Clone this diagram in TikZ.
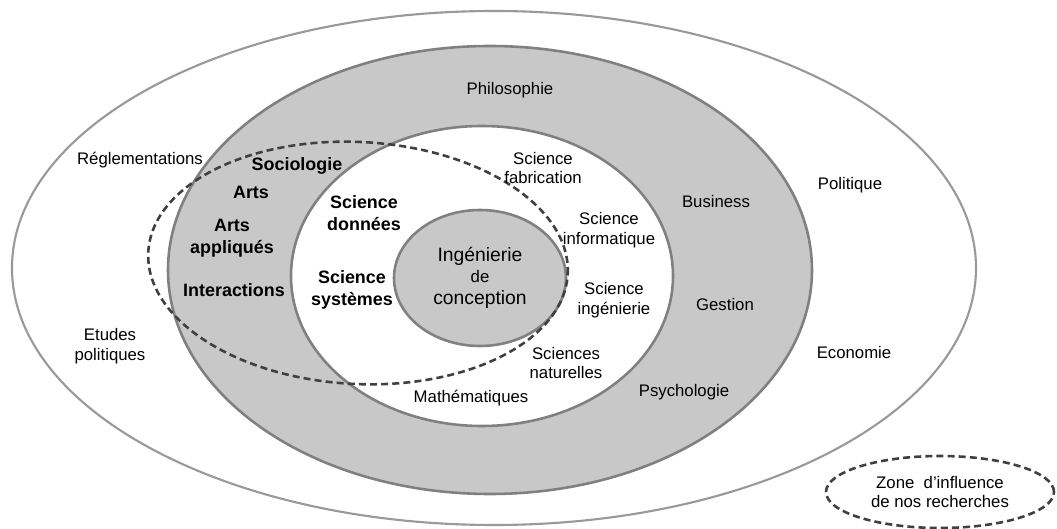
\documentclass[tikz,border=0pt]{standalone}
\usepackage{fontspec}
\setmainfont{Liberation Sans}
\definecolor{ringgray}{RGB}{200,200,200}
\definecolor{edgegray}{RGB}{128,128,128}
\definecolor{dashgray}{RGB}{64,64,64}
\begin{document}
\begin{tikzpicture}[
  x=0.03cm, y=0.03cm,
  ring/.style={draw=edgegray, line width=2.2pt},
  zone/.style={draw=dashgray, line width=2.2pt, dash pattern=on 6pt off 3.5pt},
  lbl/.style={font=\fontsize{14.3}{17}\selectfont, align=center, inner sep=0pt},
  blbl/.style={lbl, font=\fontsize{15.3}{18.5}\selectfont\bfseries}
]
\useasboundingbox [fill=white] (0,0) rectangle (1057,529);

% nested domains
\draw [draw=edgegray!80, line width=1.8pt] (494,261) ellipse [x radius=482, y radius=257];
\draw [ring, fill=ringgray] (490,259) ellipse [x radius=322, y radius=224];
\draw [ring, fill=white] (482,253) ellipse [x radius=191, y radius=150];
\draw [ring, fill=ringgray] (480,251) ellipse [x radius=86, y radius=68];

% zones of influence
\draw [zone] (358,266) ellipse [x radius=210, y radius=121, rotate=-3];
\draw [zone] (940,37) ellipse [x radius=114, y radius=36];

% outer ring
\node [lbl] (regl) at (140,369) {Réglementations};
\node [lbl] (etudes) at (110,183) {Etudes\\politiques};
\node [lbl] (polit) at (850,344) {Politique};
\node [lbl] (econ) at (854,176) {Economie};

% gray ring
\node [lbl] (philo) at (510,439) {Philosophie};
\node [blbl] (socio) at (297,363) {Sociologie};
\node [blbl] (arts) at (251,337) {Arts};
\node [blbl] (artsap) at (232,291) {Arts\\appliqués};
\node [blbl] (inter) at (234,239) {Interactions};
\node [lbl] (busi) at (716,327) {Business};
\node [lbl] (gest) at (725,224) {Gestion};
\node [lbl] (psy) at (684,137) {Psychologie};

% white ring
\node [blbl] (donnees) at (364,316) {Science\\données};
\node [blbl] (systemes) at (352,239) {Science\\systèmes};
\node [lbl] (fabr) at (543,361) {Science\\fabrication};
\node [lbl] (info) at (609,299) {Science\\informatique};
\node [lbl] (ingen) at (614,229) {Science\\ingénierie};
\node [lbl] (natur) at (566,166) {Sciences\\naturelles};
\node [lbl] (math) at (471,131) {Mathématiques};

% core
\node [lbl, font=\fontsize{16.5}{19}\selectfont] (core) at (480,251) {Ingénierie\\[-1pt]{\fontsize{14.3}{15}\selectfont de}\\conception};

\node [lbl] (legend) at (940,37) {Zone\ \ d'influence\\de nos recherches};
\end{tikzpicture}
\end{document}
